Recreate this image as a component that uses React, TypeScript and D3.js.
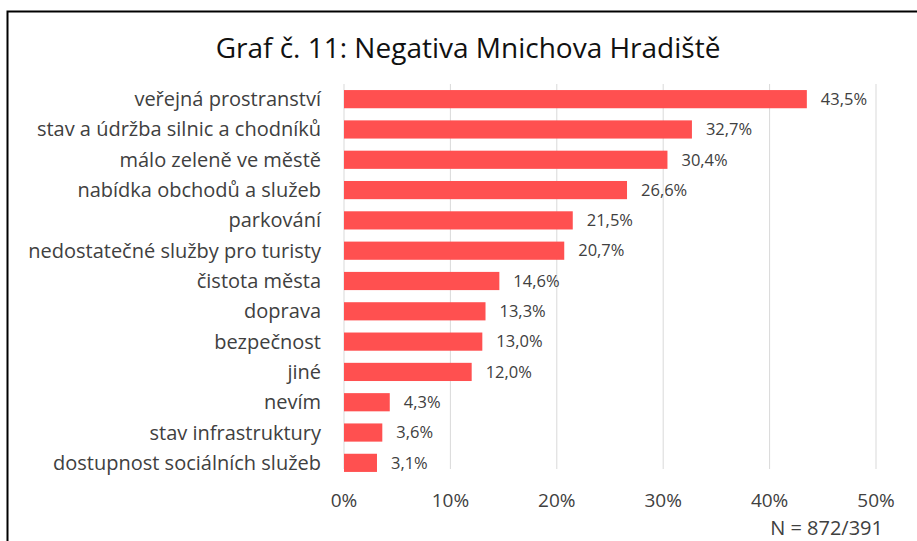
import * as d3 from 'd3';

const categories = [
  'veřejná prostranství',
  'stav a údržba silnic a chodníků',
  'málo zeleně ve městě',
  'nabídka obchodů a služeb',
  'parkování',
  'nedostatečné služby pro turisty',
  'čistota města',
  'doprava',
  'bezpečnost',
  'jiné',
  'nevím',
  'stav infrastruktury',
  'dostupnost sociálních služeb',
];
const values = [43.5, 32.7, 30.4, 26.6, 21.5, 20.7, 14.6, 13.3, 13.0, 12.0, 4.3, 3.6, 3.1];
const ticks = [0, 10, 20, 30, 40, 50];

const title = 'Graf č. 11: Negativa Mnichova Hradiště';
const note = 'N = 872/391';

const width = 917;
const height = 541;
const barColor = '#ff5050';
const textColor = '#404040';
const gridColor = '#d9d9d9';
const font = '"Open Sans", Lato, sans-serif';

const fmt = (v: number) => v.toFixed(1).replace('.', ',') + '%';

export default function App() {
  const x = d3.scaleLinear().domain([0, 50]).range([344, 876]);
  const y = d3.scaleBand().domain(categories).range([84, 478]).paddingInner(0.4).paddingOuter(0.2);

  return (
    <svg
      width={width}
      height={height}
      style={{ position: 'absolute', left: 0, top: 0, background: '#fff' }}
      fontFamily={font}
    >
      <rect x={7.5} y={11.5} width={width + 10} height={height + 10} fill="#fff" stroke="#000" strokeWidth={2} />
      <text x={468} y={58} textAnchor="middle" fontSize={28} fill="#111">
        {title}
      </text>

      {ticks.map((t) => (
        <g key={t}>
          <line x1={x(t)} x2={x(t)} y1={84} y2={469} stroke={gridColor} strokeWidth={1} />
          <text x={x(t)} y={507} textAnchor="middle" fontSize={19} fill={textColor}>
            {t + '%'}
          </text>
        </g>
      ))}

      {categories.map((c, i) => {
        const yy = y(c) as number;
        const bw = y.bandwidth();
        return (
          <g key={c}>
            <rect x={x(0)} y={yy} width={x(values[i]) - x(0)} height={bw} fill={barColor} />
            <text x={321} y={yy + bw / 2} dy="0.35em" textAnchor="end" fontSize={20} fill={textColor}>
              {c}
            </text>
            <text x={x(values[i]) + 14} y={yy + bw / 2} dy="0.35em" fontSize={16.5} fill={textColor}>
              {fmt(values[i])}
            </text>
          </g>
        );
      })}

      <text x={883} y={535} textAnchor="end" fontSize={20} fill={textColor}>
        {note}
      </text>
    </svg>
  );
}
